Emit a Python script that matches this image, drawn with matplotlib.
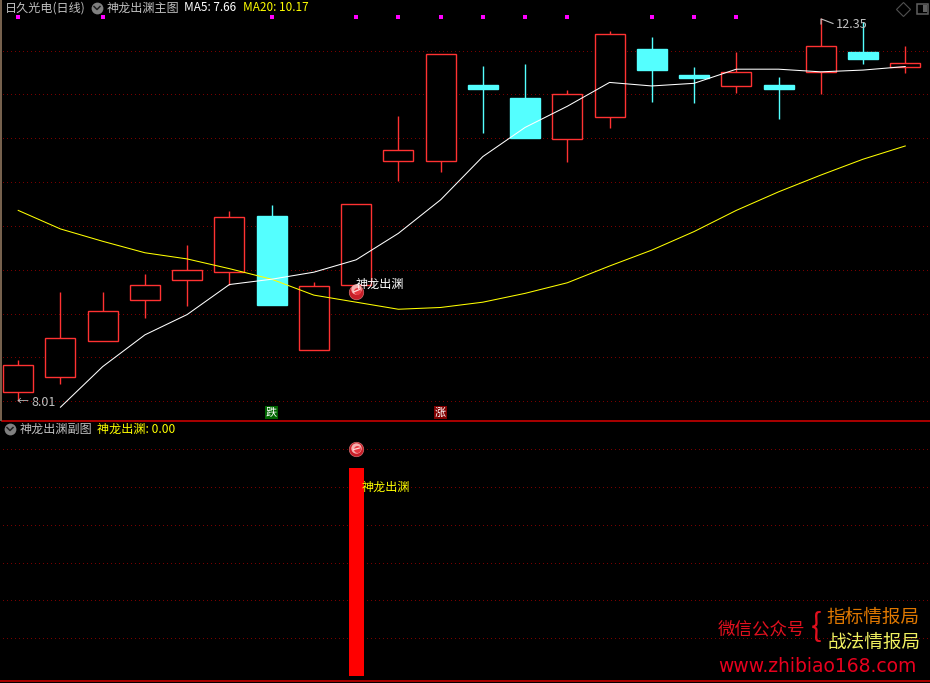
import numpy as np
import matplotlib
matplotlib.use("Agg")
import matplotlib.pyplot as plt

plt.rcParams['font.family'] = ['Noto Sans CJK SC', 'DejaVu Sans']

# -----------------------------
# 1) Data
# -----------------------------
opens = [8.11, 8.28, 8.69, 9.15, 9.38, 9.47, 10.11, 8.59, 9.33, 10.73, 10.73,
         11.59, 11.44, 10.98, 11.23, 12.00, 11.70, 11.58, 11.59, 11.74, 11.97, 11.80]
closes = [8.42, 8.72, 9.03, 9.33, 9.50, 10.09, 9.10, 9.31, 10.24, 10.85, 11.94,
          11.55, 10.99, 11.49, 12.17, 11.76, 11.67, 11.74, 11.55, 12.03, 11.89, 11.84]
highs = [8.48, 9.25, 9.25, 9.45, 9.78, 10.16, 10.23, 9.36, 10.24, 11.24, 11.94,
         11.81, 11.83, 11.53, 12.20, 12.14, 11.80, 11.97, 11.68, 12.35, 12.31, 12.03]
lows = [8.01, 8.20, 8.69, 8.95, 9.09, 9.33, 9.10, 8.59, 9.33, 10.50, 10.61,
        11.05, 10.99, 10.72, 11.10, 11.40, 11.39, 11.50, 11.21, 11.49, 11.83, 11.73]

ma5 = [np.nan, 7.94, 8.40, 8.76, 8.99, 9.33, 9.39, 9.47, 9.61, 9.91, 10.29,
       10.78, 11.11, 11.35, 11.62, 11.58, 11.61, 11.77, 11.77, 11.74, 11.76, 11.80]
ma20 = [10.17, 9.96, 9.82, 9.69, 9.62, 9.51, 9.39, 9.21, 9.13, 9.05, 9.07,
        9.13, 9.23, 9.35, 9.54, 9.72, 9.93, 10.17, 10.38, 10.57, 10.75, 10.90]

marker_days = [0, 2, 6, 8, 9, 10, 11, 12, 13, 15, 16, 17]
grid_main = [11.98, 11.49, 10.99, 10.49, 9.99, 9.50, 9.00, 8.51, 8.01]

signal_day = 8
signal_price = 9.25
sub_value = 100
sub_ball = 109
grid_sub = [109, 90.8, 72.6, 54.5, 36.4, 18.2]

# -----------------------------
# 2) Colours
# -----------------------------
BG = '#000000'
RED = '#ff3232'
CYAN = '#54ffff'
GRID = '#780000'
YELLOW = '#ffff00'
GREY = '#c0c0c0'
LINE = '#c80000'

fig = plt.figure(figsize=(9.3, 6.83), dpi=100, facecolor=BG)
W, H = 930, 683


def make_axes(top, bottom):
    ax = fig.add_axes([0, 1 - bottom / H, 1, (bottom - top) / H], facecolor='none')
    ax.set_xlim(-18.2 / 42.24, (W - 18.2) / 42.24)
    ax.axis('off')
    return ax


def dotted(ax, levels):
    for v in levels:
        ax.plot([-0.35, 21.6], [v, v], color=GRID, lw=0.72, dashes=(1, 3),
                antialiased=False, zorder=1)


def ball(ax, x, y):
    span = ax.get_ylim()[1] - ax.get_ylim()[0]
    ax.plot(x, y, 'o', ms=10.5, color='#c81e28', mec='#e08080', mew=0.4, zorder=8)
    ax.plot(x, y + span * 0.006, 'o', ms=7.5, color='#f5b0b0', mew=0, zorder=9)
    ax.plot(x + 0.02, y + span * 0.002, 'o', ms=5, color='#e83840', mew=0, zorder=10)
    # white streak across the ball
    ax.plot([x - 0.06, x + 0.08], [y - span * 0.001, y + span * 0.005],
            color='#ffd8d8', lw=0.9, solid_capstyle='round', zorder=11)


# -----------------------------
# 3) Main panel
# -----------------------------
ax = make_axes(0, 420)
ax.set_ylim(7.795, 12.554)
dotted(ax, grid_main)

days = np.arange(len(opens))
for d in days:
    up = closes[d] >= opens[d]
    c = RED if up else CYAN
    ax.vlines(d, lows[d], highs[d], color=c, lw=1.0, zorder=2)
    ax.bar(d, abs(closes[d] - opens[d]), bottom=min(opens[d], closes[d]), width=0.71,
           facecolor=BG if up else CYAN, edgecolor=c, lw=1.0, zorder=3)

ax.plot(days, ma20, color=YELLOW, lw=0.75, zorder=5)
ax.plot(days, ma5, color='#ffffff', lw=0.75, zorder=5)

ax.plot(marker_days, [12.36] * len(marker_days), 's', color='#ff00ff', ms=2.6, mew=0, zorder=6)
ball(ax, signal_day, signal_price)

# -----------------------------
# 4) Sub panel
# -----------------------------
ax2 = make_axes(421, 681)
ax2.set_ylim(-2.4, 122.6)
dotted(ax2, grid_sub)
ax2.bar(signal_day, sub_value, width=0.355, color='#ff0000', zorder=3)
ball(ax2, signal_day, sub_ball)

# -----------------------------
# 5) Overlay: frame, text, icons (pixel coordinates)
# -----------------------------
ov = fig.add_axes([0, 0, 1, 1], facecolor='none')
ov.set_xlim(0, W)
ov.set_ylim(H, 0)
ov.axis('off')

ov.plot([2, W], [420.5, 420.5], color=LINE, lw=1.2, zorder=2)
ov.plot([0, W], [680.5, 680.5], color=LINE, lw=1.2, zorder=2)
ov.plot([0.7, 0.7], [0, 420], color='#7a6450', lw=1.4, zorder=2)


def label(x, y, s, color=GREY, size=8.7, **kw):
    ov.text(x, y, s, color=color, fontsize=size, ha=kw.pop('ha', 'left'), va='center', zorder=12, **kw)


def chevron(x, y):
    ov.plot(x, y, 'o', ms=8.5, color='#808080', mew=0, zorder=11)
    ov.plot([x - 3, x, x + 3], [y - 1, y + 2, y - 1], color='#202020', lw=1.1, zorder=12)


label(5, 8, '日久光电(日线)')
chevron(97, 7.5)
label(107, 8, '神龙出渊主图')
label(184, 7.5, 'MA5: 7.66', color='#ffffff', size=8.5)
label(243, 7.5, 'MA20: 10.17', color=YELLOW, size=8.5)

chevron(10, 428.5)
label(20, 429, '神龙出渊副图')
label(97, 429, '神龙出渊: 0.00', color=YELLOW)

# top right icons
ov.plot(903, 8.5, 'D', ms=7, mfc='none', mec='#505050', mew=0.8, zorder=11)
ov.add_patch(plt.Rectangle((917, 3.5), 11, 10, fc='none', ec='#606060', lw=1.1, zorder=11))
ov.add_patch(plt.Rectangle((923, 5), 3.5, 7, fc='#606060', ec='none', zorder=11))

# high / low labels
label(17, 401.5, '←', size=8.5)
label(31, 402, '8.01', size=9)
ov.plot([821, 821, 824, 833], [24, 19, 20, 23.5], color=GREY, lw=0.8, zorder=11)
label(836, 24.5, '12.35', size=9.2)

# signal text
label(356, 284.5, '神龙出渊', color='#ffffff')
label(362, 487.5, '神龙出渊', color=YELLOW)

# up / down tags
ov.add_patch(plt.Rectangle((265, 406), 13, 13, fc='#006400', ec='none', zorder=11))
label(271.5, 412.5, '跌', color='#ffffff', size=8, ha='center')
ov.add_patch(plt.Rectangle((434, 406), 13, 13, fc='#800000', ec='none', zorder=11))
label(440.5, 412.5, '涨', color='#ffffff', size=8, ha='center')

# watermark
label(718, 629.5, '微信公众号', color='#e0101e', size=12.6)
label(816, 627, '{', color='#e0101e', size=23, ha='center', fontweight='light')
label(826, 618, '指标情报局', color='#e07800', size=13.4)
label(827, 642.5, '战法情报局', color='#f0f060', size=13.4)
label(718, 666.5, 'www.zhibiao168.com', color='#e8001e', size=13.5, family='DejaVu Sans')

fig.savefig('out.png', dpi=100, facecolor=BG)
